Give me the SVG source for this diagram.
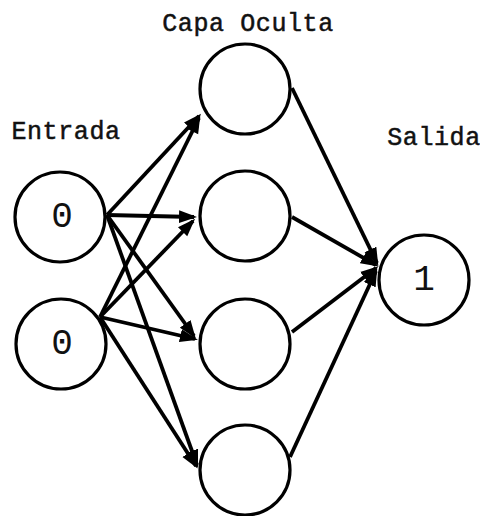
<svg xmlns="http://www.w3.org/2000/svg" width="480" height="516" viewBox="0 0 480 516">
  <style>
    .node { fill: #ffffff; stroke: #000000; stroke-width: 3.2; }
    .edge { stroke: #000000; stroke-width: 3.8; fill: none; marker-end: url(#arrow); }
    .label { font-family: "Liberation Mono", "DejaVu Sans Mono", monospace; font-size: 25px; letter-spacing: 0.6px; fill: #111111; stroke: #111111; stroke-width: 0.5; text-anchor: middle; }
    .value { font-family: "Liberation Mono", "DejaVu Sans Mono", monospace; font-size: 36px; fill: #111111; text-anchor: middle; }
  </style>
  <defs>
    <marker id="arrow" markerUnits="userSpaceOnUse" markerWidth="18" markerHeight="14" viewBox="0 0 18 14" refX="15" refY="7" orient="auto">
      <path d="M0,0.5 L18,7 L0,13.5 z" fill="#000000"/>
    </marker>
  </defs>

  <rect width="480" height="516" fill="#ffffff"/>

  <!-- layer titles -->
  <text class="label" x="248" y="31">Capa Oculta</text>
  <text class="label" x="66" y="139">Entrada</text>
  <text class="label" x="434" y="145">Salida</text>

  <!-- connections -->
  <g id="connectors">
    <!-- input 1 to hidden layer -->
    <line class="edge" x1="107" y1="215" x2="199" y2="116"/>
    <line class="edge" x1="107" y1="215" x2="194" y2="217"/>
    <line class="edge" x1="107" y1="215" x2="194" y2="336"/>
    <line class="edge" x1="107" y1="215" x2="197" y2="465"/>
    <!-- input 2 to hidden layer -->
    <line class="edge" x1="100" y1="317" x2="199" y2="118"/>
    <line class="edge" x1="100" y1="317" x2="193" y2="221"/>
    <line class="edge" x1="100" y1="317" x2="195" y2="339"/>
    <line class="edge" x1="100" y1="317" x2="196" y2="466"/>
    <!-- hidden layer to output -->
    <line class="edge" x1="292" y1="88" x2="377" y2="263"/>
    <line class="edge" x1="292" y1="217" x2="376" y2="265"/>
    <line class="edge" x1="292" y1="332" x2="376" y2="268"/>
    <line class="edge" x1="290" y1="457" x2="376" y2="271"/>
  </g>

  <!-- input layer -->
  <g id="input1">
    <circle class="node" cx="60" cy="217" r="45"/>
    <text class="value" x="62" y="227">0</text>
  </g>
  <g id="input2">
    <circle class="node" cx="61" cy="344" r="45"/>
    <text class="value" x="62" y="354">0</text>
  </g>

  <!-- hidden layer -->
  <g id="hidden1"><circle class="node" cx="245" cy="89" r="45"/></g>
  <g id="hidden2"><circle class="node" cx="245" cy="216" r="45"/></g>
  <g id="hidden3"><circle class="node" cx="245" cy="344" r="45"/></g>
  <g id="hidden4"><circle class="node" cx="245" cy="470" r="45"/></g>

  <!-- output layer -->
  <g id="output">
    <circle class="node" cx="424" cy="280" r="45"/>
    <text class="value" x="424" y="290">1</text>
  </g>
</svg>
